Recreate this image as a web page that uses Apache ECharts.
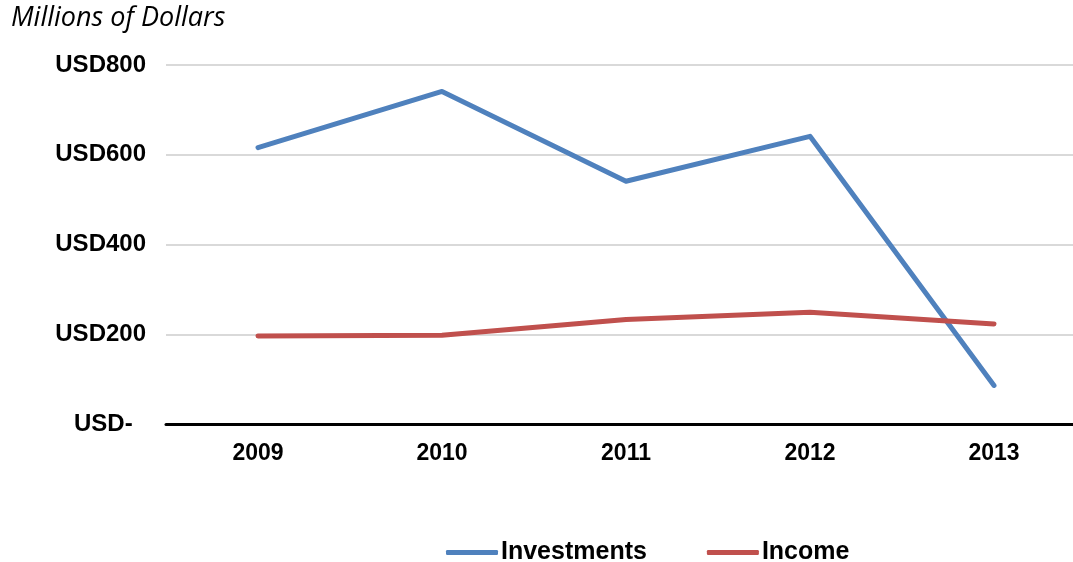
<!DOCTYPE html>
<html>
<head>
<meta charset="utf-8">
<script src="https://cdn.jsdelivr.net/npm/echarts@6/dist/echarts.min.js"></script>
<style>
html,body{margin:0;padding:0;background:#fff;overflow:hidden;width:1073px;height:562px;}
#chart{width:1086px;height:562px;}
</style>
</head>
<body>
<div id="chart"></div>
<script>
const categories = ['2009', '2010', '2011', '2012', '2013'];
const investments = [616, 741, 541, 641, 86];
const income = [196, 198, 233, 249, 223];
const seriesNames = ['Investments', 'Income'];
const titleText = 'Millions of Dollars';

const chart = echarts.init(document.getElementById('chart'));
chart.setOption({
  animation: false,
  backgroundColor: '#ffffff',
  title: {
    text: titleText,
    left: 6,
    top: 0,
    textStyle: {
      fontFamily: 'Open Sans',
      fontStyle: 'italic',
      fontWeight: 'normal',
      fontSize: 27,
      color: '#000000'
    }
  },
  legend: {
    data: seriesNames,
    left: 441,
    top: 535,
    icon: 'roundRect',
    itemWidth: 52,
    itemHeight: 5,
    itemGap: 60,
    textStyle: {
      fontFamily: 'Liberation Sans',
      fontWeight: 'bold',
      fontSize: 25,
      color: '#000000',
      padding: [0, 0, 0, -2]
    }
  },
  grid: {
    left: 166,
    right: 0,
    top: 65,
    bottom: 138,
    containLabel: false
  },
  xAxis: {
    type: 'category',
    data: categories,
    boundaryGap: true,
    axisLine: { show: true, lineStyle: { color: '#000000', width: 3 } },
    axisTick: { show: false },
    axisLabel: {
      margin: 18,
      fontFamily: 'Liberation Sans',
      fontWeight: 'bold',
      fontSize: 23,
      color: '#000000'
    },
    splitLine: { show: false }
  },
  yAxis: {
    type: 'value',
    min: 0,
    max: 800,
    interval: 200,
    axisLine: { show: false },
    axisTick: { show: false },
    axisLabel: {
      margin: 20,
      fontFamily: 'Liberation Sans',
      fontWeight: 'bold',
      fontSize: 24,
      color: '#000000',
      formatter: function (v) { return v === 0 ? 'USD-  ' : 'USD' + v; }
    },
    splitLine: { show: true, lineStyle: { color: '#D9D9D9', width: 2 } }
  },
  series: [
    {
      name: seriesNames[0],
      type: 'line',
      data: investments,
      symbol: 'none',
      lineStyle: { color: '#4F81BD', width: 5, cap: 'round', join: 'round' },
      itemStyle: { color: '#4F81BD' }
    },
    {
      name: seriesNames[1],
      type: 'line',
      data: income,
      symbol: 'none',
      lineStyle: { color: '#C0504D', width: 5, cap: 'round', join: 'round' },
      itemStyle: { color: '#C0504D' }
    }
  ]
});
</script>
</body>
</html>
